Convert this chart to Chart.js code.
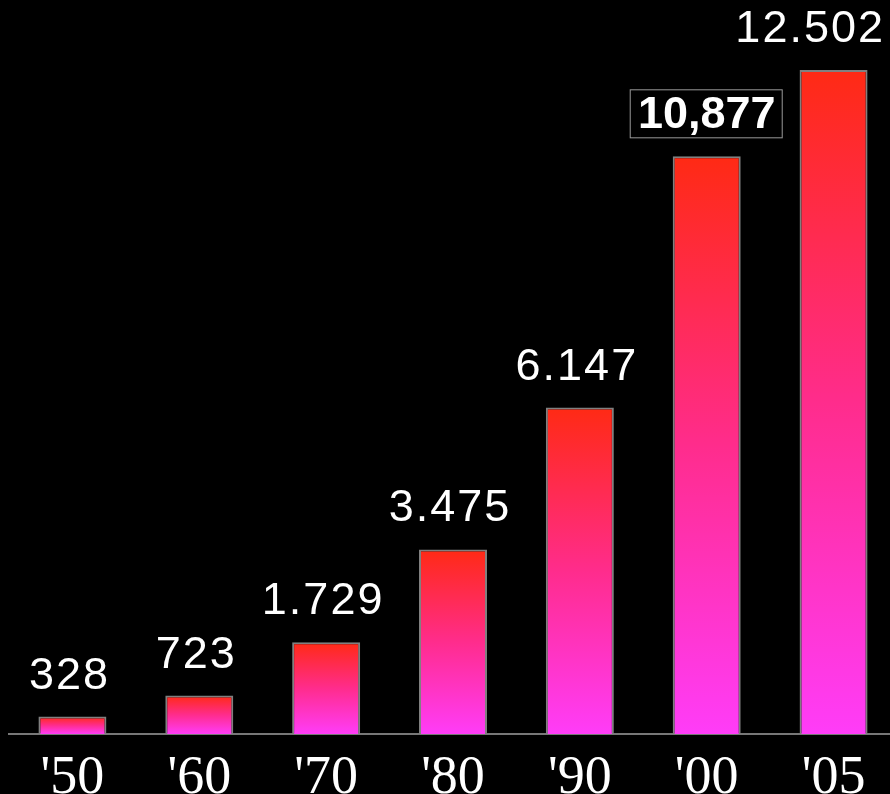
<!DOCTYPE html>
<html lang="en">
<head>
    <meta charset="UTF-8">
    <title>Bar chart</title>
    <style>
        html, body { margin: 0; padding: 0; background: #000; overflow: hidden; }
        .chart-container { width: 900px; height: 794px; }
    </style>
</head>
<body>
    <div class="chart-container">
        <canvas id="myChart" width="900" height="794"></canvas>
    </div>

    <script src="https://cdn.jsdelivr.net/npm/chart.js"></script>
    <script>
        const years = ["'50", "'60", "'70", "'80", "'90", "'00", "'05"];
        const values = [328, 723, 1729, 3475, 6147, 10877, 12502];
        const valueLabels = ['328', '723', '1.729', '3.475', '6.147', '10,877', '12.502'];
        const highlighted = [false, false, false, false, false, true, false];

        // red at the top of each bar, magenta at the base
        function barGradient(context) {
            const chart = context.chart;
            if (!chart.chartArea) return '#ff2a14';
            const y = chart.scales.y;
            const top = y.getPixelForValue(context.raw);
            const base = y.getPixelForValue(0);
            const g = chart.ctx.createLinearGradient(0, top, 0, base);
            g.addColorStop(0, '#ff2a14');
            g.addColorStop(0.5, '#ff2c8c');
            g.addColorStop(1, '#ff3cf8');
            return g;
        }

        const valueLabelPlugin = {
            id: 'valueLabels',
            afterDatasetsDraw(chart) {
                const ctx = chart.ctx;
                const bars = chart.getDatasetMeta(0).data;
                ctx.save();
                ctx.textAlign = 'center';
                ctx.textBaseline = 'alphabetic';
                bars.forEach((bar, i) => {
                    const y = bar.y - 28;
                    if (highlighted[i]) {
                        ctx.font = 'bold 45px "Liberation Sans", Arial, sans-serif';
                        ctx.letterSpacing = '0px';
                        ctx.fillStyle = '#000';
                        ctx.fillRect(bar.x - 76, y - 38, 152, 48);
                        ctx.strokeStyle = '#999';
                        ctx.lineWidth = 1;
                        ctx.strokeRect(bar.x - 76.5, y - 38.5, 152, 48);
                        ctx.fillStyle = '#fff';
                        ctx.fillText(valueLabels[i], bar.x, y);
                    } else {
                        ctx.font = '45px "Liberation Sans", Arial, sans-serif';
                        ctx.letterSpacing = '2px';
                        const w = ctx.measureText(valueLabels[i]).width;
                        let x = bar.x - 3;
                        if (x + w / 2 > 885) x = 885 - w / 2; // keep inside the picture
                        ctx.fillStyle = '#fff';
                        ctx.fillText(valueLabels[i], x, y);
                    }
                });
                ctx.restore();
            }
        };

        const ctx = document.getElementById('myChart').getContext('2d');
        const chart = new Chart(ctx, {
            type: 'bar',
            data: {
                labels: years,
                datasets: [{
                    data: values,
                    backgroundColor: barGradient,
                    borderColor: '#808080',
                    borderWidth: 2,
                    borderSkipped: 'bottom',
                    categoryPercentage: 1,
                    barPercentage: 0.536
                }]
            },
            plugins: [valueLabelPlugin],
            options: {
                responsive: false,
                animation: false,
                layout: { padding: { left: 9, right: 3, top: 17, bottom: 0 } },
                plugins: {
                    legend: { display: false },
                    tooltip: { enabled: false }
                },
                scales: {
                    x: {
                        grid: { display: false, drawTicks: false },
                        border: { color: '#777', width: 2 },
                        ticks: {
                            color: '#fff',
                            padding: 12,
                            font: { family: '"Liberation Serif", "Times New Roman", serif', size: 54 }
                        },
                        afterFit: function(scale) { scale.height = 60; }
                    },
                    y: {
                        display: false,
                        min: 0,
                        max: 13500
                    }
                }
            }
        });
    </script>
</body>
</html>
